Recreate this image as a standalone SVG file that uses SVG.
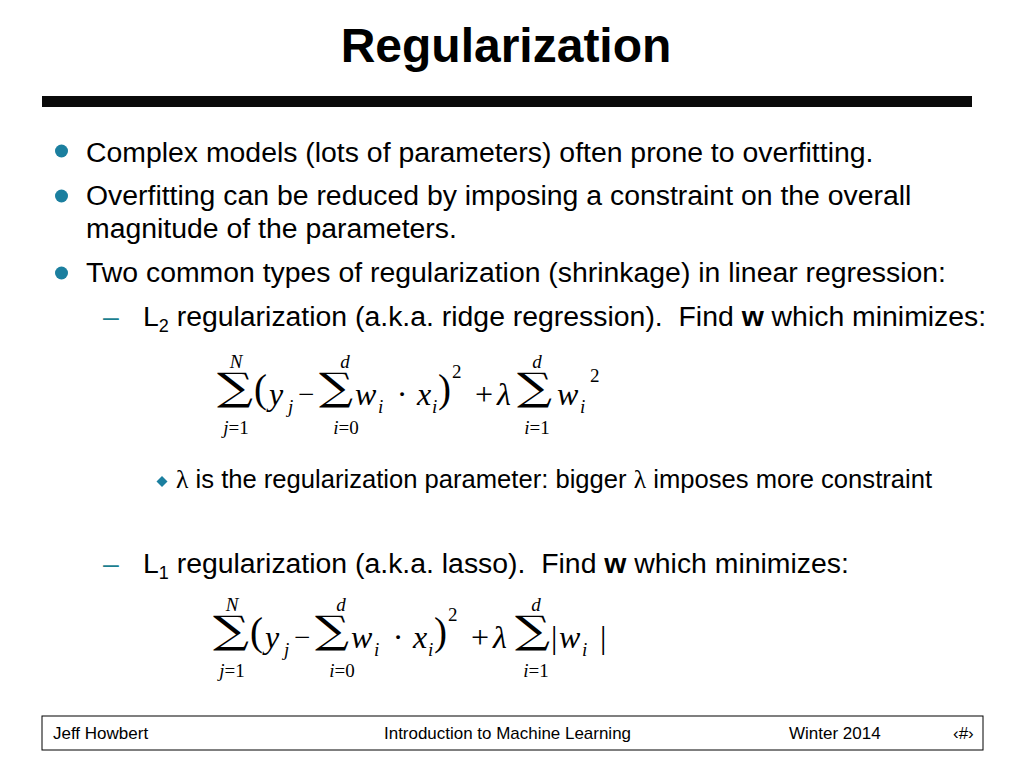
<svg xmlns="http://www.w3.org/2000/svg" width="1024" height="768" viewBox="0 0 1024 768">
<style>
.title{font-family:"Liberation Sans",Arial,sans-serif;font-weight:bold;font-size:48px;fill:#000}
.body{font-family:"Liberation Sans",Arial,sans-serif;font-size:28.4px;fill:#000}
.sub{font-family:"Liberation Sans",Arial,sans-serif;font-size:25.6px;fill:#000}
.foot{font-family:"Liberation Sans",Arial,sans-serif;font-size:17px;fill:#000}
.m{font-family:"Liberation Serif","Times New Roman",serif;font-size:32px;fill:#000}
.mn{font-family:"Liberation Serif","Times New Roman",serif;font-size:29px;fill:#000}
.mi{font-family:"Liberation Serif","Times New Roman",serif;font-size:32px;font-style:italic;fill:#000}
.s{font-family:"Liberation Serif","Times New Roman",serif;font-size:19px;fill:#000}
.si{font-family:"Liberation Serif","Times New Roman",serif;font-size:19px;font-style:italic;fill:#000}
.sig{font-family:"DejaVu Serif","Liberation Serif",serif;font-size:38px;fill:#000}
.par{font-family:"Liberation Serif","Times New Roman",serif;font-size:39px;fill:#000}
.bul{fill:#1b7f9f}
.dash{font-family:"Liberation Sans",Arial,sans-serif;font-size:28.4px;fill:#1b7f8f}
</style>
<rect width="1024" height="768" fill="#fff"/>
<g id="title">
<text class="title" x="506" y="62" text-anchor="middle">Regularization</text>
<rect x="42" y="96" width="930" height="11" fill="#0a0a0a"/>
</g>
<g id="bullets">
<circle class="bul" cx="61.5" cy="151" r="6.5"/>
<text class="body" x="86" y="162">Complex models (lots of parameters) often prone to overfitting.</text>
<circle class="bul" cx="61.5" cy="196" r="6.5"/>
<text class="body" x="86" y="205">Overfitting can be reduced by imposing a constraint on the overall</text>
<text class="body" x="86" y="238">magnitude of the parameters.</text>
<circle class="bul" cx="61.5" cy="273" r="6.5"/>
<text class="body" x="86" y="282">Two common types of regularization (shrinkage) in linear regression:</text>
<text class="dash" x="103" y="326">–</text>
<text class="body" x="143" y="326" xml:space="preserve">L<tspan font-size="18" dy="6">2</tspan><tspan dy="-6"> regularization (a.k.a. ridge regression).  Find </tspan><tspan font-weight="bold">w</tspan> which minimizes:</text>
<path class="bul" d="M162 476 L167.5 481.5 L162 487 L156.5 481.5 Z"/>
<text class="sub" x="176" y="488"><tspan font-family="Liberation Serif,serif">λ</tspan> is the regularization parameter: bigger <tspan font-family="Liberation Serif,serif">λ</tspan> imposes more constraint</text>
<text class="dash" x="103" y="573">–</text>
<text class="body" x="143" y="573" xml:space="preserve">L<tspan font-size="18" dy="6">1</tspan><tspan dy="-6"> regularization (a.k.a. lasso).  Find </tspan><tspan font-weight="bold">w</tspan> which minimizes:</text>
</g>
<g id="formula1">
<text class="sig" x="217" y="400" textLength="36" lengthAdjust="spacingAndGlyphs">∑</text>
<text class="si" x="236" y="368" text-anchor="middle">N</text>
<text class="s" x="236" y="434" text-anchor="middle"><tspan font-style="italic">j</tspan>=1</text>
<text class="par" x="254" y="402">(</text>
<text class="mi" x="269" y="405">y</text>
<text class="si" x="288" y="413">j</text>
<text class="mn" x="298" y="404">−</text>
<text class="sig" x="319" y="400" textLength="34" lengthAdjust="spacingAndGlyphs">∑</text>
<text class="si" x="345" y="368" text-anchor="middle">d</text>
<text class="s" x="346" y="434" text-anchor="middle"><tspan font-style="italic">i</tspan>=0</text>
<text class="mi" x="355" y="405">w</text>
<text class="si" x="378" y="413">i</text>
<text class="m" x="402" y="405" text-anchor="middle">·</text>
<text class="mi" x="417" y="405">x</text>
<text class="si" x="432" y="413">i</text>
<text class="par" x="438" y="402">)</text>
<text class="s" x="452" y="378">2</text>
<text class="m" x="475" y="405">+</text>
<text class="mi" x="497" y="405">λ</text>
<text class="sig" x="517" y="400" textLength="35" lengthAdjust="spacingAndGlyphs">∑</text>
<text class="si" x="537" y="368" text-anchor="middle">d</text>
<text class="s" x="537" y="434" text-anchor="middle"><tspan font-style="italic">i</tspan>=1</text>
<text class="mi" x="557" y="405">w</text>
<text class="si" x="580" y="413">i</text>
<text class="s" x="590" y="382">2</text>
</g>
<g id="formula2">
<text class="sig" x="213" y="643" textLength="36" lengthAdjust="spacingAndGlyphs">∑</text>
<text class="si" x="232" y="611" text-anchor="middle">N</text>
<text class="s" x="232" y="677" text-anchor="middle"><tspan font-style="italic">j</tspan>=1</text>
<text class="par" x="250" y="645">(</text>
<text class="mi" x="265" y="648">y</text>
<text class="si" x="284" y="656">j</text>
<text class="mn" x="294" y="647">−</text>
<text class="sig" x="315" y="643" textLength="34" lengthAdjust="spacingAndGlyphs">∑</text>
<text class="si" x="341" y="611" text-anchor="middle">d</text>
<text class="s" x="342" y="677" text-anchor="middle"><tspan font-style="italic">i</tspan>=0</text>
<text class="mi" x="351" y="648">w</text>
<text class="si" x="374" y="656">i</text>
<text class="m" x="398" y="648" text-anchor="middle">·</text>
<text class="mi" x="413" y="648">x</text>
<text class="si" x="428" y="656">i</text>
<text class="par" x="434" y="645">)</text>
<text class="s" x="448" y="621">2</text>
<text class="m" x="471" y="648">+</text>
<text class="mi" x="493" y="648">λ</text>
<text class="sig" x="515" y="643" textLength="35" lengthAdjust="spacingAndGlyphs">∑</text>
<text class="si" x="536" y="611" text-anchor="middle">d</text>
<text class="s" x="536" y="677" text-anchor="middle"><tspan font-style="italic">i</tspan>=1</text>
<text class="m" x="551" y="648">|</text>
<text class="mi" x="559" y="648">w</text>
<text class="si" x="582" y="656">i</text>
<text class="m" x="600" y="648">|</text>
</g>
<g id="footer">
<rect x="42" y="716" width="941" height="34" fill="none" stroke="#000" stroke-width="1"/>
<text class="foot" x="53" y="739">Jeff Howbert</text>
<text class="foot" x="384" y="739" textLength="247" lengthAdjust="spacingAndGlyphs">Introduction to Machine Learning</text>
<text class="foot" x="789" y="739">Winter 2014</text>
<text class="foot" x="953" y="739">‹#›</text>
</g>
</svg>
